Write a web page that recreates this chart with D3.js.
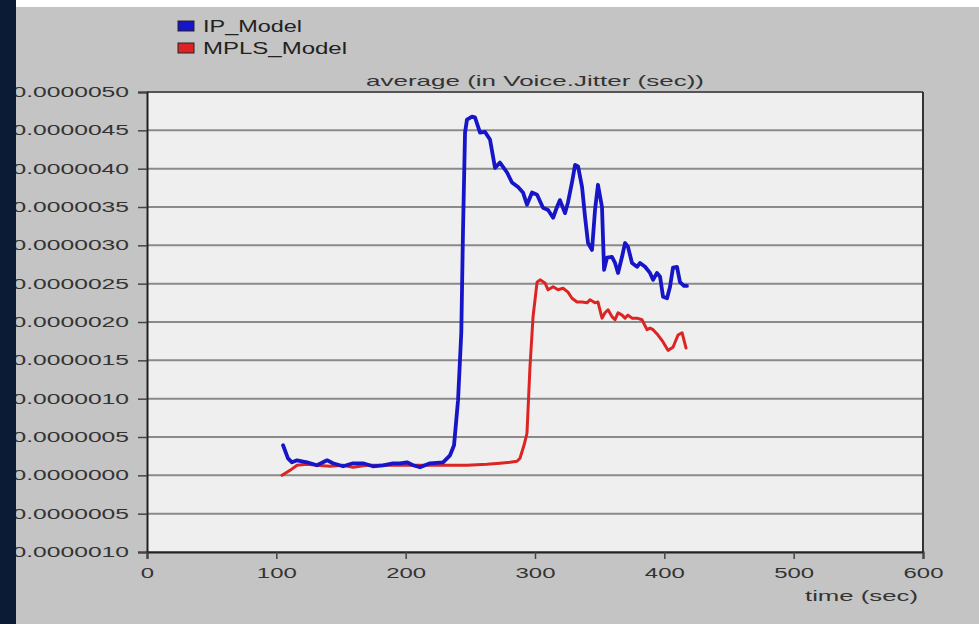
<!DOCTYPE html>
<html>
<head>
<meta charset="utf-8">
<script src="https://cdn.jsdelivr.net/npm/d3@7"></script>
<style>
html,body{margin:0;padding:0;background:#c4c4c4;}
svg{display:block;}
text{font-family:"Liberation Sans",Arial,sans-serif;}
</style>
</head>
<body>
<script>
// ---- data (time in sec, jitter in sec) ----
const seriesNames = ["IP_Model", "MPLS_Model"];
const chartTitle = "average (in Voice.Jitter (sec))";
const xAxisTitle = "time (sec)";
const xTicks = [0, 100, 200, 300, 400, 500, 600];
const yTicks = [-1.0e-6, -0.5e-6, 0, 0.5e-6, 1.0e-6, 1.5e-6, 2.0e-6, 2.5e-6, 3.0e-6, 3.5e-6, 4.0e-6, 4.5e-6, 5.0e-6];

const ipTime = [105.2,109.0,112.1,116.0,123.7,131.4,139.2,143.8,151.6,159.3,167.0,174.7,182.5,190.2,195.6,201.0,205.7,211.1,218.8,228.9,234.3,237.4,240.5,243.0,244.3,245.9,247.4,251.3,253.6,257.5,261.3,265.2,269.1,272.9,278.4,282.2,286.9,290.7,293.8,297.7,301.6,306.2,310.1,314.0,317.0,319.3,323.2,325.5,328.6,331.0,333.3,336.4,338.7,341.0,344.1,346.4,348.7,351.8,353.4,355.7,359.5,361.9,364.2,367.3,369.6,371.9,375.0,378.9,381.2,385.1,388.9,391.3,394.3,396.7,399.0,402.1,404.4,406.7,409.8,412.1,415.2,417.5];
const ipJitter = [3.92e-7,2.22e-7,1.70e-7,1.96e-7,1.70e-7,1.31e-7,1.96e-7,1.57e-7,1.18e-7,1.57e-7,1.57e-7,1.18e-7,1.31e-7,1.57e-7,1.57e-7,1.70e-7,1.31e-7,1.05e-7,1.57e-7,1.70e-7,2.61e-7,3.92e-7,9.80e-7,1.86e-6,3.16e-6,4.47e-6,4.64e-6,4.68e-6,4.67e-6,4.47e-6,4.48e-6,4.38e-6,4.01e-6,4.08e-6,3.95e-6,3.82e-6,3.76e-6,3.69e-6,3.53e-6,3.69e-6,3.66e-6,3.49e-6,3.46e-6,3.36e-6,3.50e-6,3.59e-6,3.42e-6,3.56e-6,3.82e-6,4.05e-6,4.03e-6,3.76e-6,3.37e-6,3.03e-6,2.94e-6,3.46e-6,3.79e-6,3.50e-6,2.68e-6,2.84e-6,2.85e-6,2.77e-6,2.64e-6,2.85e-6,3.03e-6,2.98e-6,2.77e-6,2.72e-6,2.77e-6,2.72e-6,2.64e-6,2.55e-6,2.64e-6,2.59e-6,2.33e-6,2.31e-6,2.46e-6,2.71e-6,2.72e-6,2.52e-6,2.47e-6,2.47e-6];

const mplsTime = [104.4,110.6,116.0,123.7,131.4,141.5,151.6,159.3,170.1,180.2,195.6,211.1,232.0,247.4,262.9,272.9,280.7,286.1,288.4,291.5,293.8,296.1,298.5,301.6,303.9,307.7,310.1,314.0,317.8,321.7,325.5,328.6,332.5,336.4,340.2,342.5,346.4,348.7,351.8,354.1,356.5,359.5,361.9,364.2,367.3,369.6,371.9,375.0,378.9,382.7,386.6,388.9,391.3,395.1,399.0,402.8,406.7,410.6,413.7,416.8];
const mplsJitter = [0.0,6.5e-8,1.31e-7,1.44e-7,1.31e-7,1.18e-7,1.31e-7,1.05e-7,1.31e-7,1.31e-7,1.31e-7,1.31e-7,1.31e-7,1.31e-7,1.44e-7,1.57e-7,1.70e-7,1.83e-7,2.22e-7,3.92e-7,5.49e-7,1.41e-6,2.07e-6,2.52e-6,2.55e-6,2.51e-6,2.42e-6,2.46e-6,2.42e-6,2.44e-6,2.39e-6,2.31e-6,2.26e-6,2.26e-6,2.25e-6,2.29e-6,2.25e-6,2.26e-6,2.05e-6,2.12e-6,2.16e-6,2.07e-6,2.03e-6,2.12e-6,2.09e-6,2.05e-6,2.09e-6,2.05e-6,2.05e-6,2.03e-6,1.90e-6,1.92e-6,1.90e-6,1.83e-6,1.74e-6,1.63e-6,1.67e-6,1.83e-6,1.86e-6,1.66e-6];

const seriesColors = ["#1616c8", "#dc2424"];

// ---- layout ----
const W = 979, H = 624;
const plot = {left: 147, right: 923, top: 92, bottom: 552};

const svg = d3.select("body").append("svg").attr("width", W).attr("height", H);

svg.append("rect").attr("width", W).attr("height", H).attr("fill", "#c4c4c4");
// top white strip
svg.append("rect").attr("x", 0).attr("y", 0).attr("width", W).attr("height", 7).attr("fill", "#ffffff");

const x = d3.scaleLinear().domain([0, 600]).range([plot.left, plot.right]);
const y = d3.scaleLinear().domain([-1e-6, 5e-6]).range([plot.bottom, plot.top]);

// plot background
svg.append("rect")
  .attr("x", plot.left).attr("y", plot.top)
  .attr("width", plot.right - plot.left).attr("height", plot.bottom - plot.top)
  .attr("fill", "#efefef");

// horizontal grid
svg.append("g").selectAll("line").data(yTicks).join("line")
  .attr("x1", plot.left).attr("x2", plot.right)
  .attr("y1", d => y(d)).attr("y2", d => y(d))
  .attr("stroke", "#8a8a8a").attr("stroke-width", 2);

// border top/right
svg.append("line").attr("x1", plot.left).attr("x2", plot.right).attr("y1", plot.top).attr("y2", plot.top)
  .attr("stroke", "#555").attr("stroke-width", 2);
svg.append("line").attr("x1", plot.right).attr("x2", plot.right).attr("y1", plot.top).attr("y2", plot.bottom)
  .attr("stroke", "#333").attr("stroke-width", 2);

// helper to stretch text horizontally
function stretch(sel, s) {
  sel.each(function() {
    const w = this.getComputedTextLength();
    d3.select(this).attr("textLength", w * s).attr("lengthAdjust", "spacingAndGlyphs");
  });
}

// y axis
const fmtY = d => d3.format(".7f")(d).replace("\u2212", "-");
const yAxis = d3.axisLeft(y).tickValues(yTicks).tickFormat(fmtY).tickSize(9).tickPadding(9);
const gy = svg.append("g").attr("transform", `translate(${plot.left},0)`).call(yAxis);
gy.select(".domain").attr("stroke", "#222").attr("stroke-width", 2);
gy.selectAll(".tick line").attr("stroke", "#444").attr("stroke-width", 1.5);
gy.selectAll(".tick text").attr("font-size", 14).attr("fill", "#333")
  .attr("font-family", "'Liberation Sans', Arial, sans-serif");
stretch(gy.selectAll(".tick text"), 1.76);

// x axis
const xAxis = d3.axisBottom(x).tickValues(xTicks).tickFormat(d3.format("d")).tickSize(7).tickPadding(9);
const gx = svg.append("g").attr("transform", `translate(0,${plot.bottom})`).call(xAxis);
gx.select(".domain").attr("stroke", "#222").attr("stroke-width", 2);
gx.selectAll(".tick line").attr("stroke", "#444").attr("stroke-width", 1.5);
gx.selectAll(".tick text").attr("font-size", 14).attr("fill", "#333")
  .attr("font-family", "'Liberation Sans', Arial, sans-serif");
stretch(gx.selectAll(".tick text"), 1.71);

// lines
const ipData = ipTime.map((t, i) => [t, ipJitter[i]]);
const mplsData = mplsTime.map((t, i) => [t, mplsJitter[i]]);
const line = d3.line().x(d => x(d[0])).y(d => y(d[1])).curve(d3.curveLinear);

svg.append("path").datum(mplsData).attr("d", line)
  .attr("fill", "none").attr("stroke", seriesColors[1]).attr("stroke-width", 3)
  .attr("stroke-linejoin", "round").attr("stroke-linecap", "round");
svg.append("path").datum(ipData).attr("d", line)
  .attr("fill", "none").attr("stroke", seriesColors[0]).attr("stroke-width", 3.8)
  .attr("stroke-linejoin", "round").attr("stroke-linecap", "round");

// title
svg.append("text").attr("x", (plot.left + plot.right) / 2).attr("y", 86)
  .attr("text-anchor", "middle").attr("font-size", 15).attr("fill", "#333").text(chartTitle)
  .attr("textLength", 338).attr("lengthAdjust", "spacingAndGlyphs");

// x axis title
svg.append("text").attr("x", 918).attr("y", 601).attr("text-anchor", "end")
  .attr("font-size", 15).attr("fill", "#333").text(xAxisTitle)
  .attr("textLength", 113).attr("lengthAdjust", "spacingAndGlyphs");

// legend
const legendY = [21, 43];
const legendW = [99, 144];
const lg = svg.append("g");
seriesNames.forEach((name, i) => {
  lg.append("rect").attr("x", 178).attr("y", legendY[i]).attr("width", 16).attr("height", 10)
    .attr("fill", seriesColors[i]).attr("stroke", "#222").attr("stroke-width", 1);
  lg.append("text").attr("x", 203).attr("y", legendY[i] + 11)
    .attr("font-size", 16).attr("fill", "#222").text(name)
    .attr("textLength", legendW[i]).attr("lengthAdjust", "spacingAndGlyphs");
});

// dark left strip
svg.append("rect").attr("x", 0).attr("y", 0).attr("width", 16).attr("height", H).attr("fill", "#0b1a35");
</script>
</body>
</html>
